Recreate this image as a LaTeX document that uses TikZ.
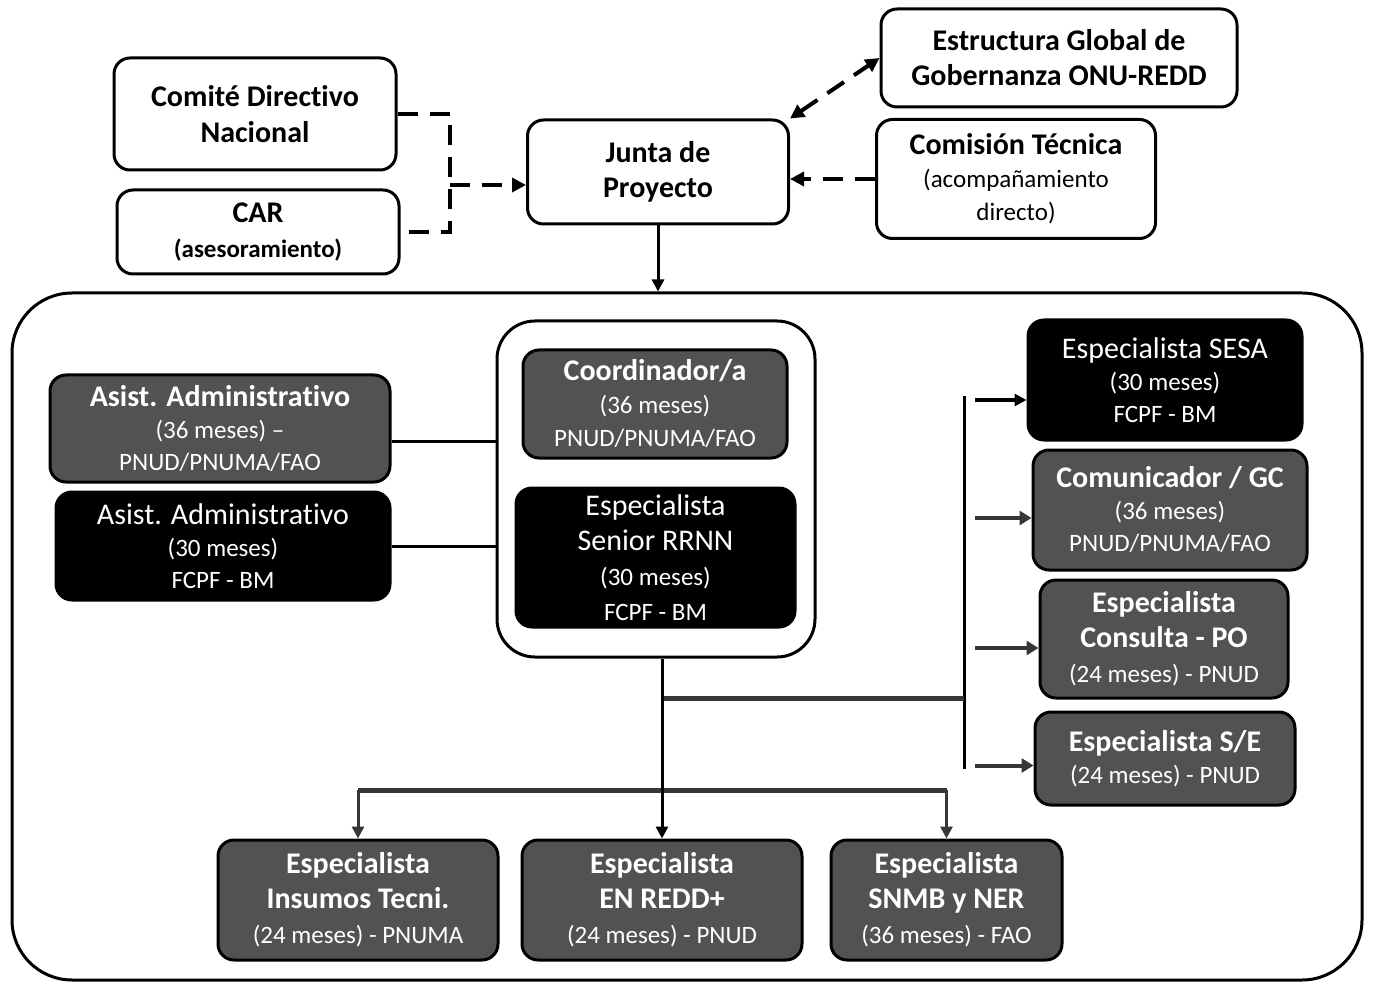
\documentclass[tikz,border=0pt]{standalone}
\usepackage{fontspec}
\setmainfont[Ligatures=NoCommon]{Carlito}
\usetikzlibrary{arrows.meta,calc}
\definecolor{boxgray}{RGB}{82,82,82}
\definecolor{lngray}{RGB}{55,55,55}
\newcommand\subf{\fontsize{25}{35}\selectfont}
\begin{document}
\begin{tikzpicture}[x=1pt,y=-1pt,
 box/.style={rounded corners=16pt, line width=3pt, align=center, inner sep=0pt, font=\fontsize{30}{35}\selectfont},
 wbox/.style={box, draw=black, fill=white, text=black},
 gbox/.style={box, draw=black, fill=boxgray, text=white},
 kbox/.style={box, draw=black, fill=black, text=white},
 dsh/.style={line width=4pt, dash pattern=on 20pt off 12pt},
 dtip/.style={-{Triangle[length=14pt,width=14pt]}},
 ln/.style={line width=3pt},
 gln/.style={line width=5pt, draw=lngray},
 garr/.style={line width=4pt, draw=lngray, -{Triangle[length=12pt,width=14pt]}},
 karr/.style={line width=3pt, -{Triangle[length=12pt,width=12pt]}},
]
\useasboundingbox (0,0) rectangle (1382,984);

% top level
\node[wbox, minimum width=282pt, minimum height=112pt, font=\fontsize{30}{36}\selectfont] (cdn) at (255,114)
  {\bfseries Comité Directivo\\\bfseries Nacional};
\node[wbox, minimum width=282pt, minimum height=84pt] (car) at (258,232)
  {\bfseries CAR\\{\subf\bfseries (asesoramiento)}};
\node[wbox, minimum width=261pt, minimum height=104pt] (junta) at (658,172)
  {\bfseries Junta de\\\bfseries Proyecto};
\node[wbox, minimum width=356pt, minimum height=98pt] (egg) at (1059,58)
  {\bfseries Estructura Global de\\\bfseries Gobernanza ONU-REDD};
\node[wbox, minimum width=279pt, minimum height=119pt, font=\fontsize{30}{33}\selectfont] (ct) at (1016,179)
  {\bfseries Comisión Técnica\\{\subf (acompañamiento}\\{\subf directo)}};

\coordinate (jn) at (450,185);
\draw[dsh] (cdn.east) -| (car.east -| jn) -- (car.east);
\draw[dsh, dtip] (jn) -- (jn -| junta.west);
\draw[dsh, {Triangle[length=14pt,width=14pt]}-{Triangle[length=14pt,width=14pt]}] (junta.north east) -- (egg.west);
\draw[dsh, dtip] (ct.west) -- (ct.west -| junta.east);

% big container
\node[draw, line width=3pt, rounded corners=60pt, minimum width=1350pt, minimum height=687pt, inner sep=0pt] (big) at (687,636.5) {};
\draw[karr] (junta.south) -- (junta.south |- big.north);

% inner container
\node[draw, fill=white, line width=3pt, rounded corners=38pt, minimum width=318pt, minimum height=336pt, inner sep=0pt] (inner) at (656,489) {};
\node[gbox, minimum width=264pt, minimum height=108pt, font=\fontsize{30}{33}\selectfont] (coord) at (655,404)
  {\bfseries Coordinador/a\\{\subf (36 meses)}\\{\subf PNUD/PNUMA/FAO}};
\node[kbox, minimum width=279pt, minimum height=139pt, font=\fontsize{30}{35}\selectfont] (senior) at (655.5,557.5)
  {Especialista\\Senior RRNN\\{\subf (30 meses)}\\{\subf FCPF - BM}};

% left
\node[gbox, minimum width=340pt, minimum height=107pt, font=\fontsize{30}{32}\selectfont] (aag) at (220,428.5)
  {\bfseries Asist. Administrativo\\{\subf (36 meses) –}\\{\subf PNUD/PNUMA/FAO}};
\node[kbox, minimum width=334pt, minimum height=108pt, font=\fontsize{30}{32}\selectfont] (aab) at (223,546)
  {Asist. Administrativo\\{\subf (30 meses)}\\{\subf FCPF - BM}};
\draw[ln] ([yshift=-13pt]aag.east) -- ([yshift=-13pt]aag.east -| inner.west);
\draw[ln] (aab.east) -- (aab.east -| inner.west);

% right
\node[kbox, minimum width=274pt, minimum height=120pt, font=\fontsize{30}{32}\selectfont] (sesa) at (1165,380)
  {Especialista SESA\\{\subf (30 meses)}\\{\subf FCPF - BM}};
\node[gbox, minimum width=274pt, minimum height=120pt, font=\fontsize{30}{32}\selectfont] (com) at (1170,510)
  {\bfseries Comunicador / GC\\{\subf (36 meses)}\\{\subf PNUD/PNUMA/FAO}};
\node[gbox, minimum width=248pt, minimum height=118pt, font=\fontsize{30}{35}\selectfont] (cons) at (1164,639)
  {\bfseries Especialista\\\bfseries Consulta - PO\\{\subf (24 meses) - PNUD}};
\node[gbox, minimum width=260pt, minimum height=93pt, font=\fontsize{30}{32}\selectfont] (se) at (1165,758.5)
  {\bfseries Especialista S/E\\{\subf (24 meses) - PNUD}};

\coordinate (vb1) at (964,396);
\coordinate (vb2) at (964,769);
\coordinate (ab) at (975,0);
\draw[ln] (vb1) -- (vb2);
\draw[karr, line width=4pt] ([yshift=-20pt]sesa.west -| ab) -- ([yshift=-20pt]sesa.west);
\draw[garr] ([yshift=-8pt]com.west -| ab) -- ([yshift=-8pt]com.west);
\draw[garr] ([yshift=-9pt]cons.west -| ab) -- ([yshift=-9pt]cons.west);
\draw[garr] ([yshift=-7pt]se.west -| ab) -- ([yshift=-7pt]se.west);

% bottom
\node[gbox, minimum width=280pt, minimum height=120pt, font=\fontsize{30}{35}\selectfont] (ins) at (358,900)
  {\bfseries Especialista\\\bfseries Insumos Tecni.\\{\subf (24 meses) - PNUMA}};
\node[gbox, minimum width=280pt, minimum height=120pt, font=\fontsize{30}{35}\selectfont] (enr) at (662,900)
  {\bfseries Especialista\\\bfseries EN REDD+\\{\subf (24 meses) - PNUD}};
\node[gbox, minimum width=231pt, minimum height=120pt, font=\fontsize{30}{35}\selectfont] (snmb) at (946.5,900)
  {\bfseries Especialista\\\bfseries SNMB y NER\\{\subf (36 meses) - FAO}};

\coordinate (hj) at (662,698);
\coordinate (hb) at (662,790);
\draw[gln] (hj) -- (hj -| vb1);
\draw[gln] (ins.north |- hb) -- (snmb.north |- hb);
\draw[karr] (enr.north |- inner.south) -- (enr.north);
\draw[karr, draw=lngray] (ins.north |- hb) -- (ins.north);
\draw[karr, draw=lngray] (snmb.north |- hb) -- (snmb.north);
\end{tikzpicture}
\end{document}
